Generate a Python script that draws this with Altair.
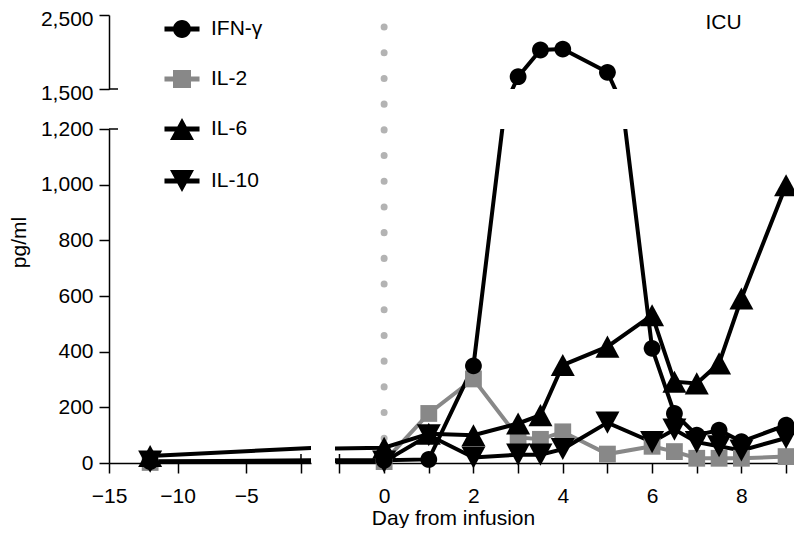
import altair as alt
import pandas as pd

# ---- data ----
days = [-12, 0, 1, 2, 3, 3.5, 4, 5, 6, 6.5, 7, 7.5, 8, 9]
ifn_gamma = [5, 10, 13, 349, 1666, 2027, 2040, 1726, 412, 178, 100, 118, 77, 136]
il_2 = [2, 5, 178, 302, 92, 85, 112, 32, 60, 41, 17, 17, 17, 23]
il_6 = [25, 55, 105, 100, 142, 172, 352, 418, 531, 292, 286, 358, 591, 998]
il_10 = [5, 5, 100, 20, 30, 30, 50, 145, 75, 120, 75, 60, 45, 90]

series_names = ["IFN-γ", "IL-2", "IL-6", "IL-10"]
series_colors = ["#000000", "#888888", "#000000", "#000000"]

left_ticks = [-15, -10, -5, -1]
right_ticks = [-1, 0, 1, 2, 3, 4, 5, 6, 7, 8, 9]
low_ticks = [0, 200, 400, 600, 800, 1000, 1200]
up_ticks = [1500, 2000, 2500]

annot_text = ["ICU"]
annot_day = [7.6]
annot_value = [2390]

rows = []
for name, vals in [("IL-2", il_2), ("IFN-γ", ifn_gamma), ("IL-6", il_6), ("IL-10", il_10)]:
    for d, v in zip(days, vals):
        rows.append({"day": d, "value": v, "series": name})
df = pd.DataFrame(rows)
icu_df = pd.DataFrame({"day": annot_day, "value": annot_value, "text": annot_text})
zero_df = pd.DataFrame({"day": [0]})
brk_df = pd.DataFrame({"day": [-1]})

# ---- marker shapes ----
circ = "M0.7,0 A0.7,0.7 0 1,1 -0.7,0 A0.7,0.7 0 1,1 0.7,0 Z"
sq = "M-0.7,-0.7 L0.7,-0.7 L0.7,0.7 L-0.7,0.7 Z"
tri_up = "M0,-0.92 L1,0.92 L-1,0.92 Z"
tri_dn = "M0,0.92 L-1,-0.92 L1,-0.92 Z"
bar = "M-1.46,-0.2 L1.46,-0.2 L1.46,0.2 L-1.46,0.2 Z "
leg_circ = "M0.75,0 A0.75,0.75 0 1,1 -0.75,0 A0.75,0.75 0 1,1 0.75,0 Z"
leg_sq = "M-0.75,-0.75 L0.75,-0.75 L0.75,0.75 L-0.75,0.75 Z"

plot_shapes = [circ, sq, tri_up, tri_dn]
legend_shapes = [bar + leg_circ, bar + leg_sq, bar + tri_up, bar + tri_dn]

FONT = "Liberation Sans"
FS = 21
W_L, W_R, H_U, H_L = 202, 460, 74, 334
XL = alt.Scale(domain=[-15, -0.27], nice=False, zero=False)
XR = alt.Scale(domain=[-1.1, 9.2], nice=False, zero=False)
YL = alt.Scale(domain=[0, 1200], nice=False, zero=False)
YU = alt.Scale(domain=[1500, 2500], nice=False, zero=False)

color_enc = alt.Color("series:N", scale=alt.Scale(domain=series_names, range=series_colors), legend=None)
shape_enc = alt.Shape("series:N", scale=alt.Scale(domain=series_names, range=plot_shapes), legend=None)

leg = alt.Legend(title=None, orient="none", legendX=61, legendY=2, direction="vertical",
                 symbolSize=576, symbolStrokeWidth=0, symbolOpacity=1,
                 labelFont=FONT, labelFontSize=FS, labelColor="black",
                 labelOffset=17, rowPadding=28, padding=0)


def lines(xs, ys, xaxis=None, yaxis=None):
    return alt.Chart(df).mark_line(clip=True, strokeWidth=4).encode(
        x=alt.X("day:Q", scale=xs, axis=xaxis),
        y=alt.Y("value:Q", scale=ys, axis=yaxis),
        color=color_enc,
        detail="series:N",
    )


def points(flt):
    return alt.Chart(df).transform_filter(flt).mark_point(
        filled=True, size=576, opacity=1, strokeWidth=0).encode(
        x="day:Q", y="value:Q", color=color_enc, shape=shape_enc)


ax_x_left = alt.Axis(values=left_ticks, labelExpr="datum.value == -1 ? '' : datum.label", title=None)
ax_x_right = alt.Axis(values=right_ticks,
                      labelExpr="(datum.value >= 0 && datum.value % 2 == 0) ? datum.label : ''",
                      title="Day from infusion", titleX=118, titleY=61,
                      titleAlign="center", titleBaseline="alphabetic")
ax_y_low = alt.Axis(values=low_ticks, format=",d", title="pg/ml", titleX=-84, titleY=113,
                    titleAlign="center", titleBaseline="alphabetic", titleAngle=-90)
ax_y_up = alt.Axis(values=up_ticks, format=",d", title=None, labelOffset=4)

# upper-left: y axis of the upper segment + legend
ul_leg = alt.Chart(df).mark_point(filled=True, size=576, opacity=1, clip=True).encode(
    x=alt.X("day:Q", scale=XL, axis=None),
    y=alt.Y("value:Q", scale=YU, axis=ax_y_up),
    color=alt.Color("series:N", scale=alt.Scale(domain=series_names, range=series_colors), legend=leg),
    shape=alt.Shape("series:N", scale=alt.Scale(domain=series_names, range=legend_shapes), legend=leg),
)
ul_cross = alt.Chart(pd.DataFrame({"v": [1500]})).mark_rule(color="black", strokeWidth=1.5).encode(
    y="v:Q", x=alt.value(0), x2=alt.value(9))
UL = alt.layer(ul_leg, ul_cross).properties(width=W_L, height=H_U)

# upper-right: top of IFN-γ peak, ICU label, infusion line
ur_rule = alt.Chart(zero_df).mark_rule(color="#b3b3b3", strokeWidth=7, strokeCap="round",
                                       strokeDash=[0.1, 25.6]).encode(
    x=alt.X("day:Q", scale=XR, axis=None), y=alt.value(12), y2=alt.value(H_U + 40 + H_L))
ur_text = alt.Chart(icu_df).mark_text(font=FONT, fontSize=FS, color="black",
                                      align="center", baseline="middle").encode(
    x="day:Q", y="value:Q", text="text:N")
UR = alt.layer(ur_rule, lines(XR, YU), points("datum.value >= 1500"), ur_text).properties(
    width=W_R, height=H_U)

# lower-left
ll_cross_y = alt.Chart(pd.DataFrame({"v": [1200]})).mark_rule(color="black", strokeWidth=1.5).encode(
    y="v:Q", x=alt.value(0), x2=alt.value(9))
ll_cross_x = alt.Chart(brk_df).mark_rule(color="black", strokeWidth=1.5).encode(
    x="day:Q", y=alt.value(H_L - 9), y2=alt.value(H_L))
LL = alt.layer(lines(XL, YL, ax_x_left, ax_y_low), points("datum.day <= -0.27"),
               ll_cross_y, ll_cross_x).properties(width=W_L, height=H_L)

# lower-right
lr_cross_x = alt.Chart(brk_df).mark_rule(color="black", strokeWidth=1.5).encode(
    x="day:Q", y=alt.value(H_L - 9), y2=alt.value(H_L))
LR = alt.layer(lines(XR, YL, ax_x_right, None),
               points("datum.day >= -1.1 && datum.value <= 1200"),
               lr_cross_x).properties(width=W_R, height=H_L)

chart = alt.concat(UL, UR, LL, LR, columns=2, spacing={"row": 40, "column": 24},
                   bounds="flush").resolve_scale(
    color="independent", shape="independent").resolve_legend(
    color="independent", shape="independent").properties(
    padding={"left": 0, "top": 0, "right": -5, "bottom": 0}
).configure_view(stroke=None).configure_axis(
    domainColor="black", domainWidth=1.5, tickColor="black", tickWidth=1.5, tickSize=10,
    labelFont=FONT, labelFontSize=FS, labelColor="black",
    titleFont=FONT, titleFontSize=FS, titleFontWeight="normal", titleColor="black",
    grid=False, labelFlush=False, labelOverlap=False
).configure_axisX(labelPadding=12).configure_axisY(labelPadding=6)

chart.save("out.html", embed_options={"renderer": "svg", "actions": False})
